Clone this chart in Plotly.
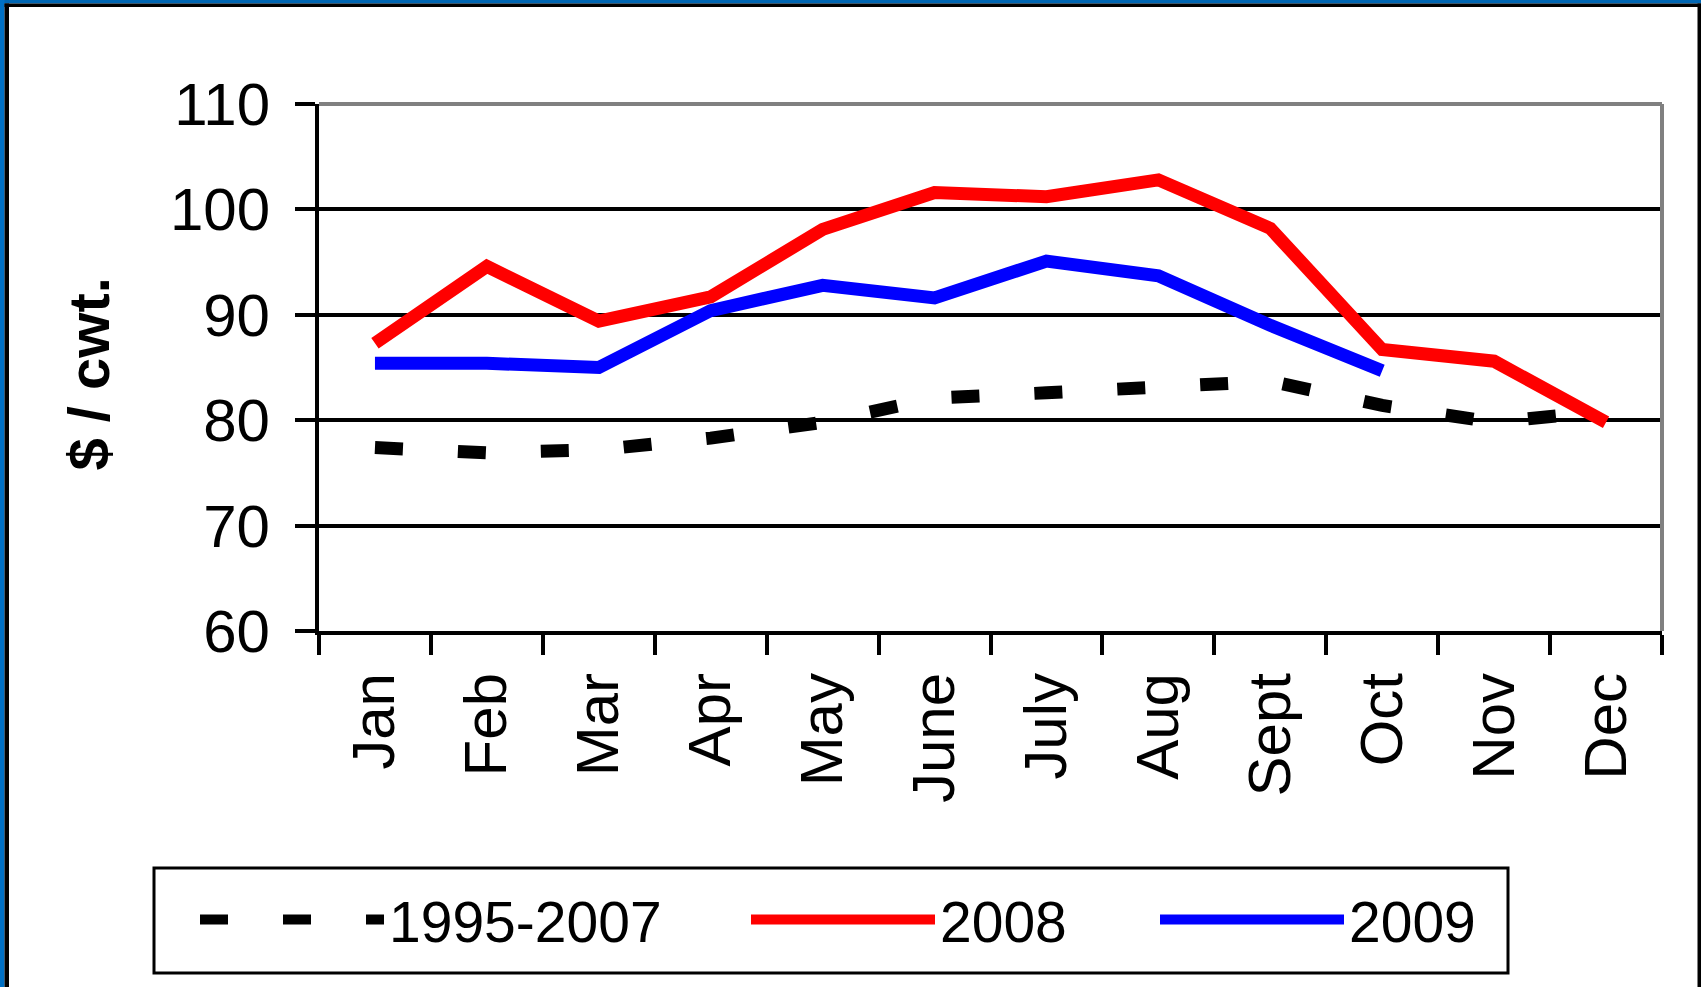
import plotly.graph_objects as go

months = ["Jan", "Feb", "Mar", "Apr", "May", "June", "July", "Aug", "Sept", "Oct", "Nov", "Dec"]
avg_1995_2007 = [77.4, 76.9, 77.2, 78.3, 79.8, 82.1, 82.6, 83.1, 83.7, 81.4, 79.8, 80.9]
prices_2008 = [87.3, 94.6, 89.4, 91.7, 98.1, 101.6, 101.2, 102.8, 98.2, 86.7, 85.6, 79.8]
prices_2009 = [85.4, 85.4, 85.0, 90.4, 92.8, 91.6, 95.1, 93.7, 89.0, 84.7]
y_ticks = [60, 70, 80, 90, 100, 110]

FONT = "Liberation Sans, Arial, sans-serif"
W, H = 1701, 987
L, R, T, B = 319, 39, 104, 356
PW, PH = W - L - R, H - T - B


# pixel -> paper helpers, for the frame and legend box
def px(x):
    return (x - L) / PW


def py(y):
    return (H - B - y) / PH


fig = go.Figure()

fig.add_trace(go.Scatter(
    x=months, y=avg_1995_2007, mode="lines", name="1995-2007",
    line=dict(color="black", width=13, dash="28px,55px"),
    legend="legend2",
))
fig.add_trace(go.Scatter(
    x=months, y=prices_2008, mode="lines", name="2008",
    line=dict(color="#FF0000", width=13),
    legend="legend3",
))
fig.add_trace(go.Scatter(
    x=months[:len(prices_2009)], y=prices_2009, mode="lines", name="2009",
    line=dict(color="#0000FF", width=13),
    legend="legend4",
))

legend_common = dict(
    orientation="h", yanchor="middle", xanchor="left", y=py(920),
    bgcolor="rgba(0,0,0,0)", borderwidth=0, itemwidth=184,
    font=dict(family=FONT, size=57, color="black"),
)

shapes = [
    # plot border top and right (gray)
    dict(type="line", xref="paper", yref="paper", x0=0, x1=1, y0=1, y1=1,
         line=dict(color="#808080", width=4)),
    dict(type="line", xref="paper", yref="paper", x0=1, x1=1, y0=0, y1=1,
         line=dict(color="#808080", width=4)),
    # legend box
    dict(type="rect", xref="paper", yref="paper",
         x0=px(154), x1=px(1508), y0=py(973), y1=py(868),
         line=dict(color="black", width=3)),
    # outer frame
    dict(type="rect", xref="paper", yref="paper", x0=px(0), x1=px(W), y0=py(0), y1=py(3.5),
         fillcolor="#0066B3", line=dict(width=0)),
    dict(type="rect", xref="paper", yref="paper", x0=px(0), x1=px(4.5), y0=py(0), y1=py(H),
         fillcolor="#0070C4", line=dict(width=0)),
    dict(type="rect", xref="paper", yref="paper", x0=px(4.5), x1=px(W), y0=py(3.5), y1=py(7),
         fillcolor="black", line=dict(width=0)),
    dict(type="rect", xref="paper", yref="paper", x0=px(4.5), x1=px(9), y0=py(3.5), y1=py(H),
         fillcolor="black", line=dict(width=0)),
    dict(type="rect", xref="paper", yref="paper", x0=px(1697.5), x1=px(W), y0=py(3.5), y1=py(H),
         fillcolor="black", line=dict(width=0)),
]

fig.update_layout(
    width=W, height=H,
    margin=dict(l=L, r=R, t=T, b=B),
    paper_bgcolor="white", plot_bgcolor="white",
    font=dict(family=FONT, size=56, color="black"),
    legend2=dict(legend_common, x=px(195)),
    legend3=dict(legend_common, x=px(746)),
    legend4=dict(legend_common, x=px(1155)),
    shapes=shapes,
    annotations=[dict(
        text="<b>$ / cwt.</b>", xref="paper", yref="paper",
        x=px(88), y=py(374.5), xanchor="center", yanchor="middle",
        textangle=-90, showarrow=False,
        font=dict(family=FONT, size=58, color="black"),
    )],
    xaxis=dict(
        type="category", categoryorder="array", categoryarray=months,
        range=[-0.5, 11.5], tickson="boundaries",
        ticks="outside", ticklen=20, tickwidth=4, tickcolor="black",
        showline=True, linewidth=4, linecolor="black",
        showgrid=False, tickangle=-90, ticklabelstandoff=14,
        tickfont=dict(family=FONT, size=60, color="black"),
    ),
    yaxis=dict(
        range=[60, 110], tickvals=y_ticks,
        ticks="outside", ticklen=20, tickwidth=4, tickcolor="black",
        showline=True, linewidth=4, linecolor="black",
        showgrid=True, gridcolor="black", gridwidth=3.5, zeroline=False,
        ticklabelstandoff=13,
        tickfont=dict(family=FONT, size=60, color="black"),
    ),
)

fig.write_html("out.html", config={"displayModeBar": False},
               post_script="document.body.style.margin='0';")
